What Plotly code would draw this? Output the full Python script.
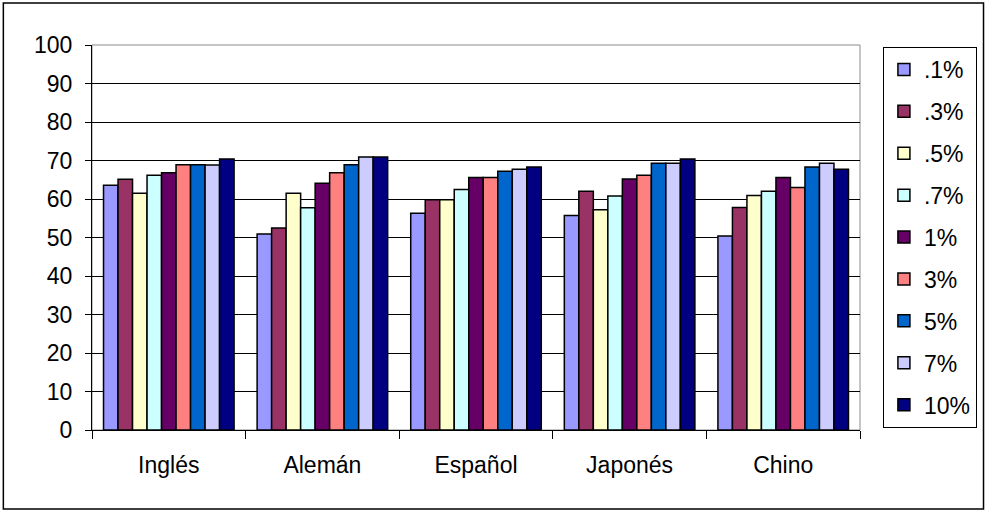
import plotly.graph_objects as go

# Languages on the x axis
languages = ["Inglés", "Alemán", "Español", "Japonés", "Chino"]

# Series names (percentages) and their values per language
series_names = [".1%", ".3%", ".5%", ".7%", "1%", "3%", "5%", "7%", "10%"]
values_01 = [63.6, 50.9, 56.3, 55.7, 50.4]
values_03 = [65.1, 52.5, 59.8, 62.0, 57.8]
values_05 = [61.5, 61.5, 59.8, 57.2, 60.9]
values_07 = [66.2, 57.7, 62.5, 60.8, 62.0]
values_1 = [66.8, 64.1, 65.6, 65.2, 65.6]
values_3 = [68.9, 66.8, 65.6, 66.2, 63.0]
values_5 = [68.9, 68.9, 67.2, 69.3, 68.3]
values_7 = [68.8, 70.9, 67.7, 69.3, 69.3]
values_10 = [70.4, 70.9, 68.3, 70.4, 67.7]

series_values = [values_01, values_03, values_05, values_07, values_1,
                 values_3, values_5, values_7, values_10]

colors = ["#9999FF", "#993366", "#FFFFCC", "#CCFFFF", "#660066",
          "#FF8080", "#0066CC", "#CCCCFF", "#000080"]

y_ticks = list(range(0, 101, 10))

W, H = 989, 512
PL, PR, PT, PB = 92, 863, 45, 430  # plot area in pixels


def px_x(x):
    return (x - PL) / (PR - PL)


def px_y(y):
    return (PB - y) / (PB - PT)


FONT = "Liberation Sans, Arial, sans-serif"

fig = go.Figure()
for i, (name, vals, col) in enumerate(zip(series_names, series_values, colors)):
    fig.add_trace(go.Bar(
        x=languages, y=vals, name=name,
        marker=dict(color=col, line=dict(color="black", width=1.5)),
        legendgroup=f"g{i}",
    ))

# Plot area frame (grey) and outer chart border
fig.add_shape(type="rect", xref="paper", yref="paper", x0=0, x1=1, y0=0, y1=1,
              line=dict(color="#8c8c8c", width=1), layer="below")
fig.add_shape(type="rect", xref="paper", yref="paper",
              x0=px_x(3), x1=px_x(987), y0=px_y(509), y1=px_y(3),
              line=dict(color="black", width=1.5))

fig.update_layout(
    width=W, height=H,
    margin=dict(l=PL, r=W - PR, t=PT, b=H - PB, pad=0),
    paper_bgcolor="white", plot_bgcolor="white",
    barmode="group", bargap=0.15, bargroupgap=0,
    font=dict(family=FONT, size=23, color="black"),
    showlegend=True,
    legend=dict(
        x=px_x(886), y=px_y(47), xanchor="left", yanchor="top",
        bordercolor="black", borderwidth=1, bgcolor="white",
        font=dict(family=FONT, size=23, color="black"),
        traceorder="grouped", tracegroupgap=9,
        itemwidth=30, maxheight=480,
    ),
    xaxis=dict(
        showgrid=False, showline=True, linecolor="black", linewidth=1,
        ticks="outside", tickson="boundaries", ticklen=8, tickcolor="black",
        ticklabelstandoff=14,
        tickfont=dict(family=FONT, size=23, color="black"),
    ),
    yaxis=dict(
        range=[0, 100], tickvals=y_ticks, showgrid=True, gridcolor="black",
        gridwidth=1, showline=True, linecolor="black", linewidth=1,
        ticks="outside", ticklen=6, tickcolor="black", zeroline=False,
        ticklabelstandoff=8,
        tickfont=dict(family=FONT, size=23, color="black"),
    ),
)

fig.write_html("out.html")
